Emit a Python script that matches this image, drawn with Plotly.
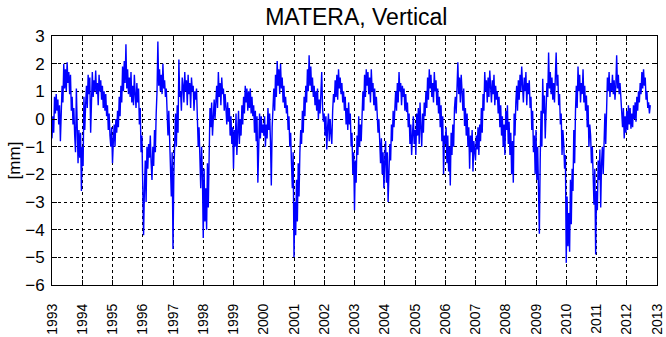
import numpy as np
import plotly.graph_objects as go

# Vertical displacement (mm), ~10-day samples (36 per year)
v1993 = [-0.7, 0.1, -0.5, 0.8, 0.2, 0.9, 0.3, 0.7, -0.2, 0.5, -0.8, 0.4,
         1.2, 0.6, 2.0, 1.1, 1.8, 1.0, 2.05, 1.3, 1.7, 0.9, 1.6, 0.3,
         0.8, -0.2, 0.4, -0.6, -1.2, 1.1, -0.9, -1.6, -0.4, -1.4, -0.5, -2.6]
v1994 = [-1.0, -1.7, 0.8, -0.4, 0.5, 1.2, 0.4, 1.6, 0.9, 1.5, -0.5, 1.1,
         1.7, 0.8, 1.4, 1.0, 1.75, 0.9, 1.3, 0.5, 1.6, 1.0, 1.4, 0.7,
         1.2, 0.4, 1.0, 0.3, 0.9, 0.1, 0.5, -0.4, 0.2, -0.6, -1.0, -0.3]
v1995 = [-1.6, -0.8, -0.2, -1.0, 0.0, -0.5, 0.3, -0.3, 0.8, 0.1, 1.2, 0.6,
         1.9, 1.0, 2.1, 1.3, 2.7, 1.1, 1.8, 0.9, 1.5, 0.8, 1.7, 0.6,
         1.2, 0.5, 1.6, 0.9, 0.4, 1.3, 0.6, 1.1, -0.2, 0.4, -1.2, -0.6]
v1996 = [-1.9, -4.2, -2.5, -1.5, -3.0, -1.0, -1.8, -0.9, -1.4, -0.6, -1.6, -2.2,
         -1.0, -1.7, -0.4, -1.2, 0.2, 1.0, 2.8, 1.2, 1.8, 1.0, 1.6, 0.9,
         2.0, 1.1, 1.4, 0.8, 1.1, 0.1, -0.6, 0.3, -1.0, -1.6, -2.8, -1.2]
v1997 = [-4.7, -2.0, -0.3, 0.2, -1.0, 0.5, -0.5, 2.15, 0.8, 1.0, 0.3, 1.5,
         1.2, 0.6, 1.7, 1.0, 1.4, 0.5, 1.6, 0.9, 1.3, 0.4, 1.5, 1.0,
         1.2, 0.3, 1.0, 0.7, 1.1, 0.2, -1.0, -0.3, -1.5, -2.5, -1.0, -2.0]
v1998 = [-4.3, -1.8, -3.7, -2.5, -4.0, -1.6, -3.2, -0.7, 0.4, -0.3, 0.6, -0.6,
         0.2, 0.7, 0.0, 0.5, 1.2, 0.4, 1.7, 0.8, 1.3, 0.5, 1.5, 0.9,
         1.1, 0.3, 0.9, 0.4, -0.2, 0.6, -0.1, 0.4, -0.6, 0.1, -0.9, -0.3]
v1999 = [-1.8, -0.4, -1.0, 0.2, -1.3, -0.5, 0.3, -0.9, 0.0, -0.6, 0.5, -0.2,
         0.8, 0.2, 1.2, 0.6, 1.1, 0.3, 1.0, 0.4, 1.1, 0.2, 0.8, 0.1,
         0.5, -0.5, 0.3, -0.8, 0.1, -2.3, -0.3, 0.2, -0.7, 0.1, -0.5, -0.2]
v2000 = [-0.6, 0.1, -1.0, -0.2, -0.7, 0.4, -0.4, 0.2, -0.8, -2.4, -0.3, 0.5,
         1.1, 0.3, 1.6, 0.8, 2.1, 1.2, 1.8, 0.9, 2.0, 1.1, 1.5, 0.6,
         1.2, 0.4, 0.8, 0.2, 0.5, -0.4, 0.1, -1.0, -0.5, -1.6, -2.5, -1.2]
v2001 = [-5.0, -3.0, -4.2, -2.2, -3.7, -1.6, -2.8, -1.2, -0.4, -0.9, 0.3, -0.5,
         0.8, 0.1, 1.2, 0.6, 1.8, 1.0, 2.3, 1.2, 1.9, 1.0, 1.5, 0.8,
         1.2, 0.5, 1.0, 0.3, 1.1, 0.0, 0.7, 0.2, 1.0, 1.7, 0.4, -0.1]
v2002 = [0.2, -0.6, 0.1, -1.1, -0.3, 0.2, -0.8, 0.0, -0.5, -0.9, 0.3, 0.9,
         0.6, 1.4, 0.8, 1.6, 0.7, 1.8, 1.1, 1.5, 0.9, 1.3, 0.6, 1.0,
         0.3, 0.8, -0.2, 0.4, -0.4, 0.6, -0.2, 0.2, -1.0, -0.5, -2.0, -1.2]
v2003 = [-3.3, -1.5, -2.3, -0.6, -1.3, 0.1, -1.0, -0.2, -0.8, 0.4, 1.0, 0.3,
         1.6, 0.8, 1.8, 1.2, 1.7, 0.9, 1.5, 0.6, 1.8, 1.0, 1.3, 0.5,
         1.1, 0.3, 0.8, 0.2, -0.5, 0.0, -1.0, -1.6, -0.7, -2.0, -1.2, -2.5]
v2004 = [-1.5, -0.8, -2.3, -1.2, -3.0, -1.9, -0.9, -1.5, -0.2, -0.8, 0.3, -0.3,
         0.6, 1.0, 0.3, 1.3, 0.6, 1.7, 1.0, 1.3, 0.5, 1.2, 0.8, 1.1,
         0.3, 0.9, 0.25, 0.6, -0.3, 0.2, -0.9, -0.2, -1.3, -0.5, 0.1, -0.9]
v2005 = [-0.4, -1.3, 0.2, -0.6, 0.4, -0.9, 0.6, -0.3, -1.0, 0.2, -0.5, 0.6,
         0.1, 1.0, 0.4, 1.5, 0.7, 1.8, 1.1, 1.6, 0.8, 1.3, 0.6, 1.7,
         1.0, 1.4, 0.5, 1.1, 0.2, 0.8, -0.3, 0.5, -0.8, 0.1, -2.0, -0.6]
v2006 = [-0.9, -0.3, -1.6, -0.6, -1.9, -1.0, -2.4, -0.5, -1.3, -0.2, -1.0, 0.4,
         0.8, 0.2, 1.1, 2.05, 0.9, 1.5, 0.6, 1.6, 1.0, 0.3, 1.1, -0.25,
         0.4, -0.6, 0.2, -1.0, -0.3, -1.8, -0.6, -1.2, -0.4, -1.9, -0.8, -1.4]
v2007 = [-1.5, -0.6, -1.1, -0.3, -1.3, -0.2, -0.8, 0.4, -0.5, 0.9, 0.3, 1.7,
         1.0, 1.4, 0.6, 1.5, 0.8, 1.75, 1.1, 0.6, 1.4, 0.9, 1.6, 0.5,
         1.2, 0.7, 1.0, 0.2, 0.8, -0.3, 0.5, -0.6, 0.1, -1.0, -0.2, -1.3]
v2008 = [0.3, -0.4, 0.5, -0.9, -0.1, -1.3, -0.5, -2.0, -0.8, -2.3, 0.2, -0.6,
         0.6, 1.2, 0.3, 1.4, 0.7, 1.6, 1.0, 1.9, 1.2, 0.6, 1.5, 1.0,
         1.7, 0.5, 1.3, 0.9, 1.4, 0.4, 0.8, -0.4, 0.3, -1.2, -0.6, -2.0]
v2009 = [-0.4, -2.2, -1.0, -2.4, -4.15, -1.5, 0.3, -1.0, 1.45, 0.2, 0.85, -0.7,
         0.5, 1.3, 0.8, 2.4, 1.1, 1.7, 0.9, 1.5, 0.7, 1.3, 0.6, 1.9,
         2.4, 1.2, 1.6, 0.5, 0.9, -0.2, 0.2, -1.3, -0.4, -0.9, -1.8, -1.3]
v2010 = [-5.2, -2.8, -4.6, -3.4, -4.8, -2.2, -3.8, -1.8, -2.6, -0.4, -1.6, 0.3,
         1.2, 0.4, 1.9, 1.0, 1.6, 0.6, 1.3, 0.9, 1.8, 0.6, 1.2, 0.3,
         0.85, -0.3, 0.5, -1.0, -0.2, -0.6, -1.6, -1.0, -2.4, -3.1, -1.8, -4.9]
v2011 = [-2.6, -3.3, -1.5, -2.2, -1.1, -3.2, -1.6, -1.0, -2.0, -0.6, 0.2, -0.9,
         0.6, 1.5, 1.0, 1.7, 0.8, 1.3, 1.0, 1.6, 0.9, 1.4, 0.7, 1.2,
         2.3, 1.1, 1.6, 0.9, 1.3, 0.5, 0.25, -0.3, 0.4, -0.7, 0.1, -0.5]
v2012 = [0.3, -0.4, 0.5, -0.2, 0.4, -0.35, 0.2, -0.3, 0.5, 0.0, 0.6, -0.1,
         0.8, 0.3, 1.0, 0.6, 1.3, 0.9, 1.7, 1.1, 1.8, 1.2, 1.5, 0.7,
         1.0, 0.4, 0.6, 0.2, 0.5]

years = list(range(1993, 2013))
series = [v1993, v1994, v1995, v1996, v1997, v1998, v1999, v2000, v2001, v2002,
          v2003, v2004, v2005, v2006, v2007, v2008, v2009, v2010, v2011, v2012]
samples_per_year = 36

t, y = [], []
for yr, vals in zip(years, series):
    for i, v in enumerate(vals):
        t.append(yr + i / samples_per_year)
        y.append(v)

tick_years = list(range(1993, 2014))
tick_text = [str(v) for v in tick_years]
y_ticks = list(range(-6, 4))

fig = go.Figure()
fig.add_trace(go.Scatter(x=t, y=y, mode="lines",
                         line=dict(color="#0000FF", width=1.4), showlegend=False))

font = "Liberation Sans, Arial, Helvetica, sans-serif"
fig.update_layout(
    width=666, height=337,
    margin=dict(l=52, r=9, t=36, b=52, autoexpand=False),
    paper_bgcolor="white", plot_bgcolor="white",
    title=dict(text="MATERA, Vertical", x=0.535, xanchor="center",
               y=0.975, yanchor="top",
               font=dict(family=font, size=23, color="black")),
    font=dict(family=font, color="black"),
)
fig.update_xaxes(
    range=[1993, 2013.0001], tickmode="array", tickvals=tick_years, ticktext=tick_text,
    tickangle=-90, tickfont=dict(size=14, family=font, color="black"),
    ticks="inside", ticklen=5, tickcolor="black", tickwidth=1,
    showline=True, linecolor="black", linewidth=1, mirror="ticks",
    showgrid=True, gridcolor="black", gridwidth=1, griddash="dot",
    zeroline=False, ticklabelstandoff=12, automargin=False,
    ticklabeloverflow="allow",
)
fig.update_yaxes(
    range=[-6, 3], tickmode="array", tickvals=y_ticks,
    tickfont=dict(size=17, family=font, color="black"),
    ticks="inside", ticklen=5, tickcolor="black", tickwidth=1,
    showline=True, linecolor="black", linewidth=1, mirror="ticks",
    showgrid=True, gridcolor="black", gridwidth=1, griddash="dot",
    zeroline=False, ticklabelstandoff=3, automargin=False,
    title=dict(text="[mm]", font=dict(size=17, family=font, color="black"),
               standoff=0),
)

fig.write_html("out.html")
